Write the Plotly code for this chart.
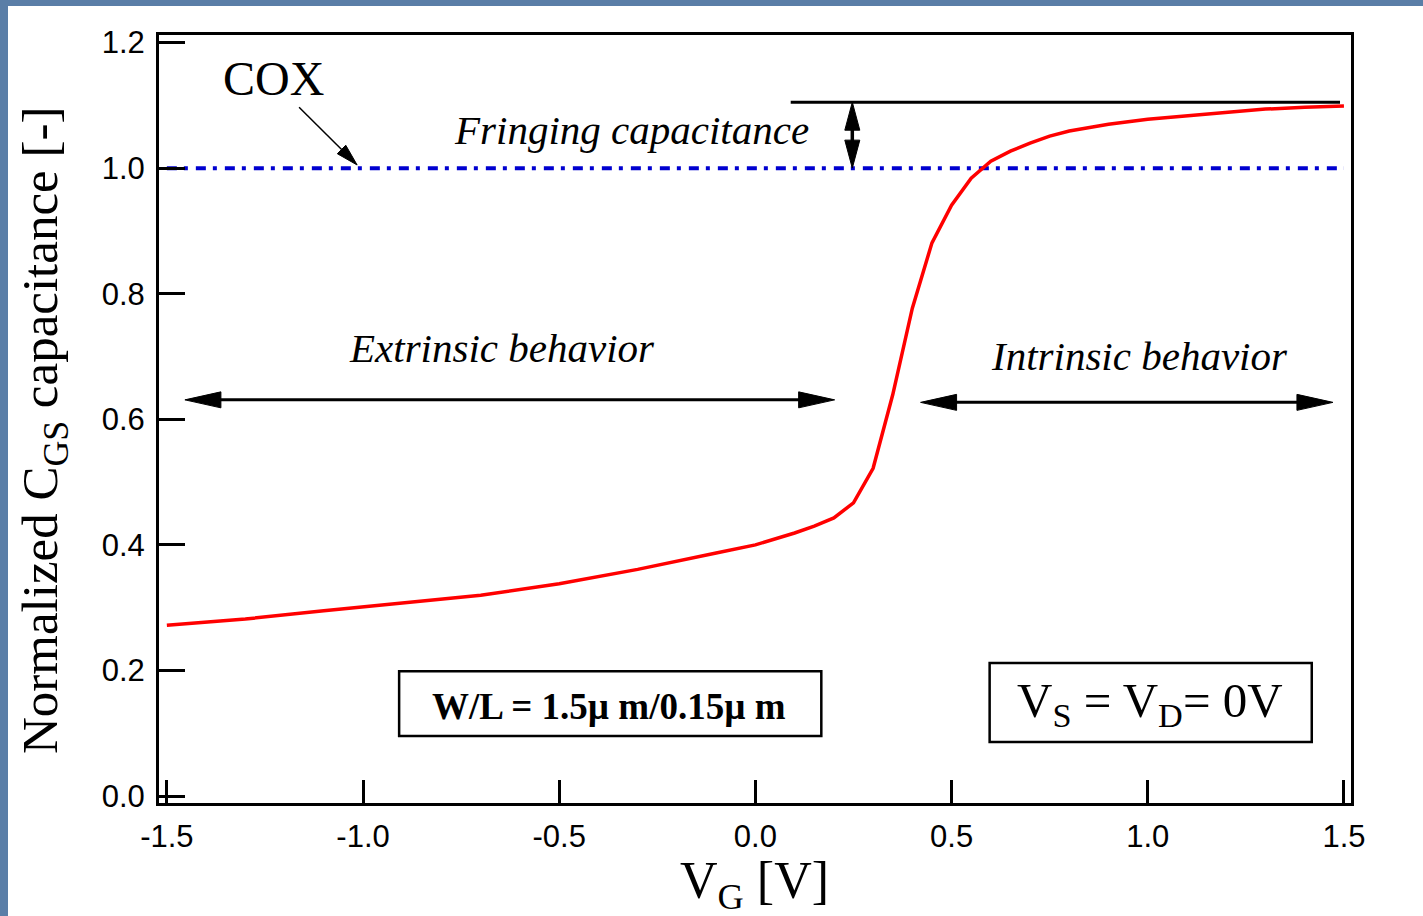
import plotly.graph_objects as go

# Gate voltage sweep and normalized gate-source capacitance
vg = [-1.5, -1.3, -1.1, -0.9, -0.7, -0.5, -0.3, -0.1, 0.0, 0.1, 0.15, 0.2,
      0.25, 0.3, 0.35, 0.4, 0.45, 0.5, 0.55, 0.6, 0.65, 0.7, 0.75, 0.8,
      0.85, 0.9, 1.0, 1.1, 1.2, 1.3, 1.4, 1.5]
cgs = [0.272, 0.282, 0.295, 0.307, 0.320, 0.338, 0.361, 0.387, 0.400, 0.419,
       0.430, 0.443, 0.467, 0.522, 0.639, 0.777, 0.881, 0.941, 0.984, 1.011,
       1.027, 1.040, 1.051, 1.059, 1.065, 1.070, 1.078, 1.083, 1.089, 1.094,
       1.097, 1.099]

cox_level = 1.0
cox_span = [-1.5, 1.5]
fringe_level = 1.105
fringe_span = [0.09, 1.49]

x_ticks = [-1.5, -1.0, -0.5, 0.0, 0.5, 1.0, 1.5]
x_ticklabels = ["-1.5", "-1.0", "-0.5", "0.0", "0.5", "1.0", "1.5"]
y_ticks = [0.0, 0.2, 0.4, 0.6, 0.8, 1.0, 1.2]
y_ticklabels = ["0.0", "0.2", "0.4", "0.6", "0.8", "1.0", "1.2"]

W, H = 1423, 916
ML, MR, MT, MB = 159, 72, 35, 113
XR = [-1.52, 1.518]
YR = [-0.011, 1.212]
PX_X = (W - ML - MR) / (XR[1] - XR[0])   # pixels per volt
PX_Y = (H - MT - MB) / (YR[1] - YR[0])   # pixels per unit capacitance

SERIF = "Liberation Serif, Times New Roman, serif"
SANS = "Liberation Sans, Arial, sans-serif"


def head(xt, yt, ux, uy, length, width):
    """Filled triangular arrowhead at (xt, yt) pointing along (ux, uy) in screen space."""
    n = (ux * ux + uy * uy) ** 0.5
    ux, uy = ux / n, uy / n
    px, py = -uy, ux
    bx, by = -ux * length, -uy * length
    p1 = (xt + (bx + px * width / 2) / PX_X, yt - (by + py * width / 2) / PX_Y)
    p2 = (xt + (bx - px * width / 2) / PX_X, yt - (by - py * width / 2) / PX_Y)
    return dict(type="path", xref="x", yref="y", fillcolor="black",
                line=dict(color="black", width=1),
                path=f"M{xt},{yt} L{p1[0]},{p1[1]} L{p2[0]},{p2[1]} Z")


def seg(x0, y0, x1, y1, w=3):
    return dict(type="line", xref="x", yref="y", x0=x0, y0=y0, x1=x1, y1=y1,
                line=dict(color="black", width=w))


fig = go.Figure()

fig.add_trace(go.Scatter(x=cox_span, y=[cox_level, cox_level], mode="lines",
                         line=dict(color="#0000d0", width=4, dash="10px,7px,4px,8px"),
                         hoverinfo="skip"))
fig.add_trace(go.Scatter(x=vg, y=cgs, mode="lines",
                         line=dict(color="#ff0000", width=3.5)))

shapes = [
    # white page panel over the slide background
    dict(type="rect", xref="paper", yref="paper", layer="below",
         x0=-(ML - 8) / (W - ML - MR), x1=1 + MR / (W - ML - MR) + 0.01,
         y0=-MB / (H - MT - MB) - 0.01, y1=1 + (MT - 6) / (H - MT - MB),
         fillcolor="white", line=dict(width=0)),
    # fringing capacitance level
    seg(fringe_span[0], fringe_level, fringe_span[1], fringe_level, 3),
]

# vertical double arrow between COX and the fringing level
xa = 0.247
shapes += [seg(xa, cox_level + 26 / PX_Y, xa, fringe_level - 26 / PX_Y, 3.5),
           head(xa, fringe_level, 0, -1, 28, 15),
           head(xa, cox_level, 0, 1, 28, 15)]

# extrinsic region arrow
ye, xe0, xe1 = 0.631, -1.454, 0.202
shapes += [seg(xe0 + 30 / PX_X, ye, xe1 - 30 / PX_X, ye, 3),
           head(xe0, ye, -1, 0, 36, 16), head(xe1, ye, 1, 0, 36, 16)]

# intrinsic region arrow
yi, xi0, xi1 = 0.627, 0.421, 1.472
shapes += [seg(xi0 + 30 / PX_X, yi, xi1 - 30 / PX_X, yi, 3),
           head(xi0, yi, -1, 0, 36, 16), head(xi1, yi, 1, 0, 36, 16)]

# COX pointer
cx0, cy0, cx1, cy1 = -1.163, 1.097, -1.015, 1.005
dxp, dyp = (cx1 - cx0) * PX_X, -(cy1 - cy0) * PX_Y
nn = (dxp ** 2 + dyp ** 2) ** 0.5
shapes += [seg(cx0, cy0, cx1 - dxp / nn * 18 / PX_X, cy1 + dyp / nn * 18 / PX_Y, 1.5),
           head(cx1, cy1, dxp, dyp, 22, 12)]

# parameter boxes
shapes += [dict(type="rect", xref="x", yref="y", x0=-0.908, x1=0.168, y0=0.0955, y1=0.199,
                line=dict(color="black", width=2.5), fillcolor="rgba(0,0,0,0)"),
           dict(type="rect", xref="x", yref="y", x0=0.597, x1=1.418, y0=0.086, y1=0.212,
                line=dict(color="black", width=2.5), fillcolor="rgba(0,0,0,0)")]

annotations = [
    dict(x=-1.227, y=1.143, text="COX", font=dict(family=SERIF, size=48, color="black")),
    dict(x=-0.316, y=1.060, text="<i>Fringing capacitance</i>",
         font=dict(family=SERIF, size=41, color="black")),
    dict(x=-0.645, y=0.713, text="<i>Extrinsic behavior</i>",
         font=dict(family=SERIF, size=41, color="black")),
    dict(x=0.980, y=0.701, text="<i>Intrinsic behavior</i>",
         font=dict(family=SERIF, size=41, color="black")),
    dict(x=-0.372, y=0.143, text="<b>W/L = 1.5\u00b5 m/0.15\u00b5 m</b>",
         font=dict(family=SERIF, size=37, color="black")),
    dict(x=1.005, y=0.148, text="V<sub>S</sub> = V<sub>D</sub>= 0V",
         font=dict(family=SERIF, size=49, color="black")),
]
for a in annotations:
    a.update(xref="x", yref="y", showarrow=False, xanchor="center", yanchor="middle")

# axis titles
annotations += [
    dict(xref="paper", yref="paper", x=(44 - ML) / (W - ML - MR), y=(H - MB - 431) / (H - MT - MB),
         text="Normalized C<sub>GS</sub> capacitance [-]", textangle=-90, showarrow=False,
         xanchor="center", yanchor="middle", font=dict(family=SERIF, size=51, color="black")),
    dict(xref="paper", yref="paper", x=(754 - ML) / (W - ML - MR), y=(H - MB - 884) / (H - MT - MB),
         text="V<sub>G</sub> [V]", showarrow=False,
         xanchor="center", yanchor="middle", font=dict(family=SERIF, size=52, color="black")),
]

axis_common = dict(showline=True, linecolor="black", linewidth=3, mirror=True,
                   ticks="inside", tickcolor="black", tickwidth=3,
                   showgrid=False, zeroline=False,
                   tickfont=dict(family=SANS, size=31, color="black"))

fig.update_layout(
    width=W, height=H,
    margin=dict(l=ML, r=MR, t=MT, b=MB),
    paper_bgcolor="#5a7ea7",
    plot_bgcolor="white",
    showlegend=False,
    shapes=shapes,
    annotations=annotations,
    xaxis=dict(range=XR, tickvals=x_ticks, ticktext=x_ticklabels, ticklen=23,
               ticklabelstandoff=4, **axis_common),
    yaxis=dict(range=YR, tickvals=y_ticks, ticktext=y_ticklabels, ticklen=26,
               ticklabelstandoff=5, **axis_common),
)

fig.write_html("out.html")
